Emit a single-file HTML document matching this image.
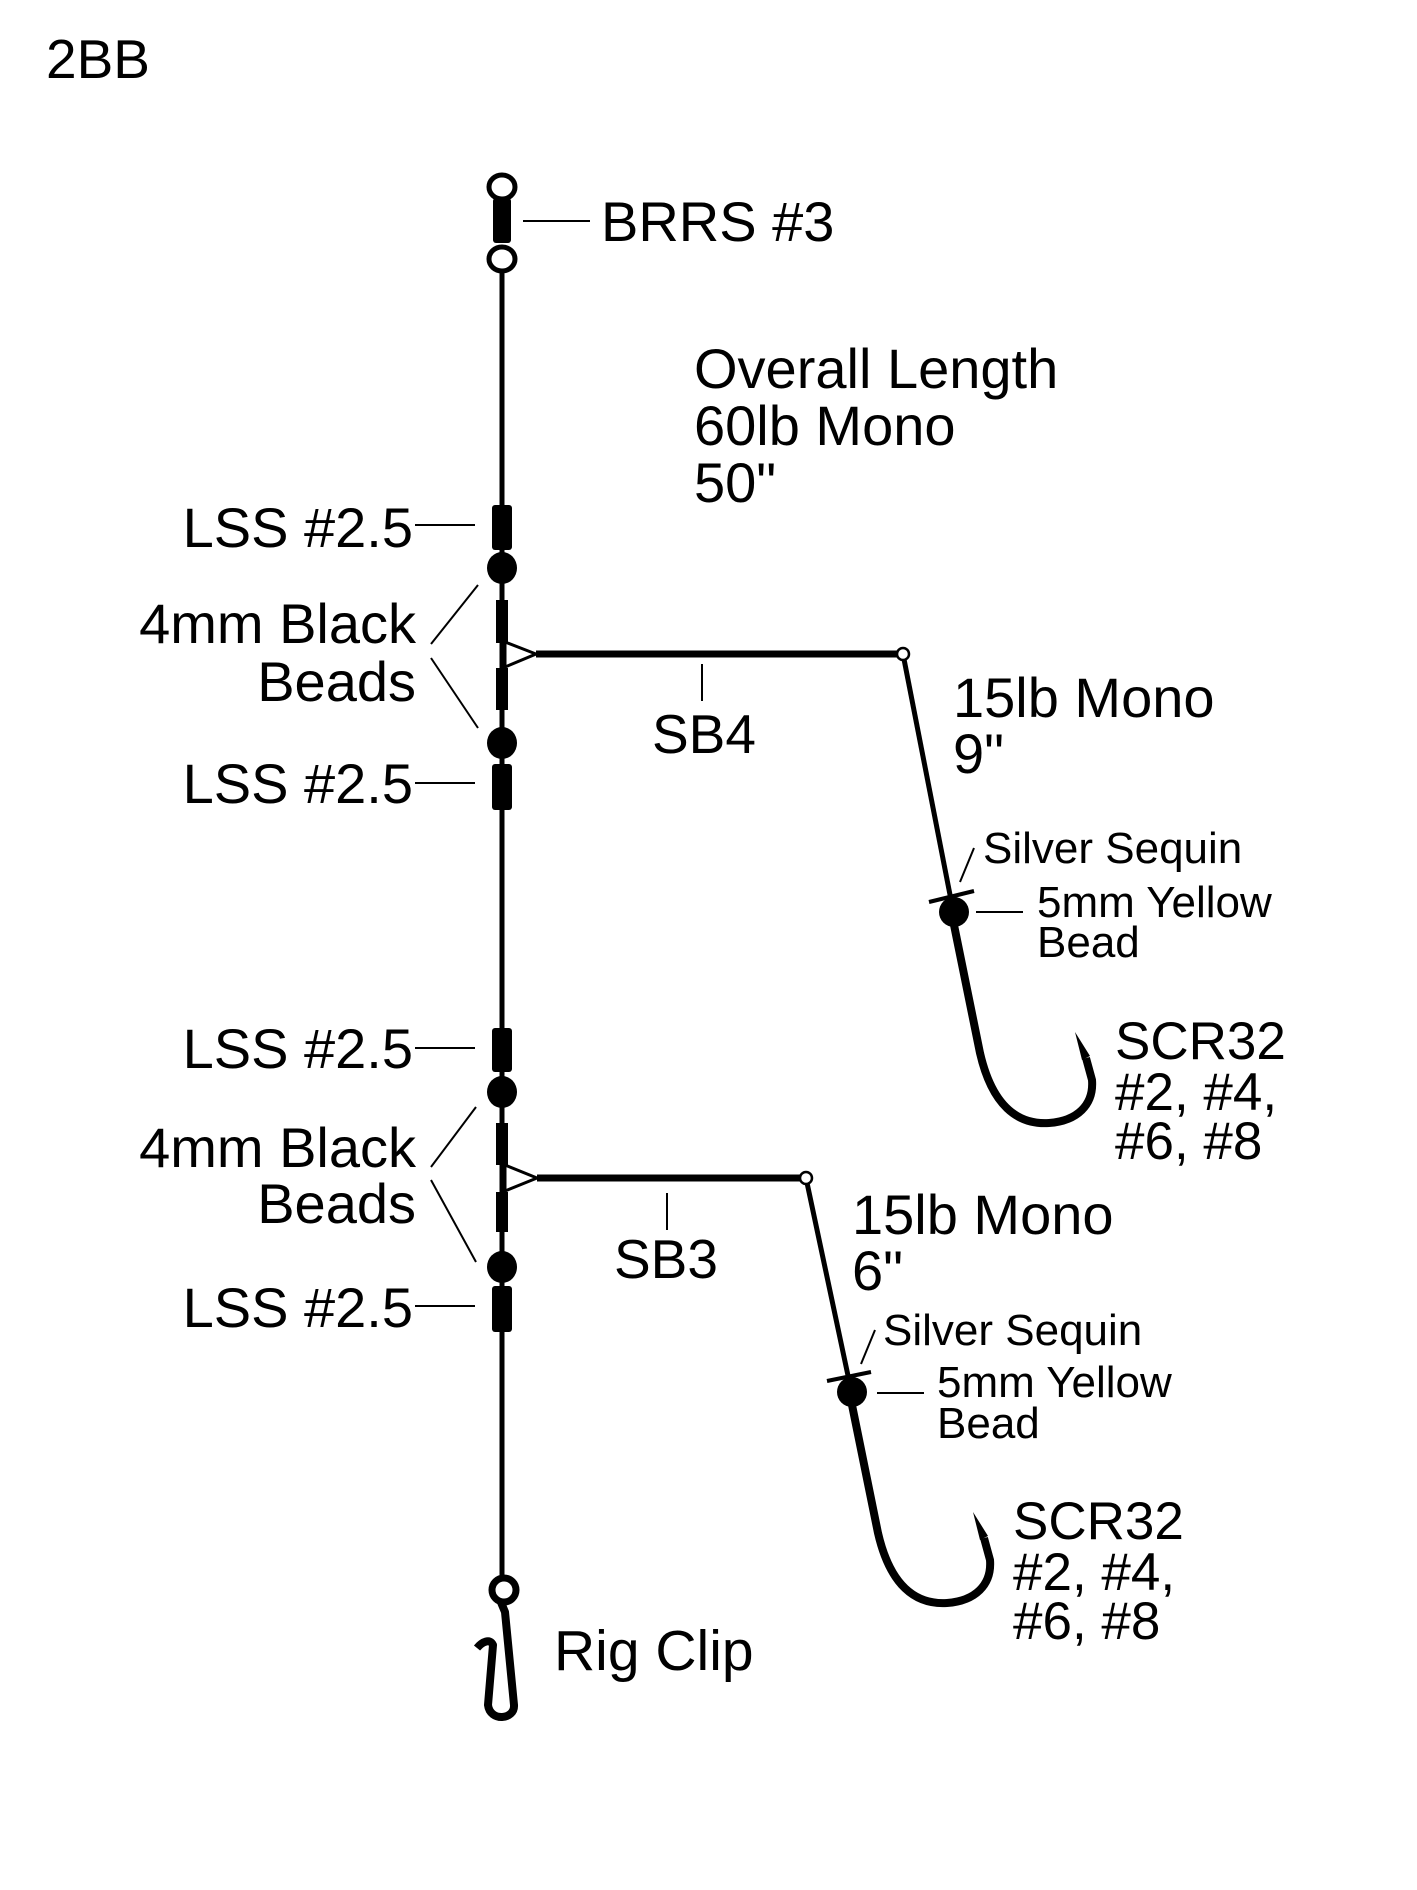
<!DOCTYPE html>
<html><head><meta charset="utf-8"><style>
html,body{margin:0;padding:0;background:#fff;}
svg{display:block;}
text{font-family:"Liberation Sans",Arial,sans-serif;fill:#000;}
</style></head><body>
<svg width="1417" height="1890" viewBox="0 0 1417 1890" xmlns="http://www.w3.org/2000/svg">
<rect width="1417" height="1890" fill="#fff"/>
<text x="46" y="78" font-size="55">2BB</text>

<line x1="502" y1="270" x2="502" y2="1580" stroke="#000" stroke-width="5"/>

<rect x="493" y="198" width="18" height="45" rx="3" fill="#000"/>
<ellipse cx="502" cy="187" rx="13" ry="12" fill="#fff" stroke="#000" stroke-width="5"/>
<ellipse cx="502" cy="259" rx="13" ry="12" fill="#fff" stroke="#000" stroke-width="5"/>
<line x1="523" y1="221" x2="590" y2="221" stroke="#000" stroke-width="2"/>
<text x="601" y="241" font-size="56">BRRS #3</text>

<text x="694" y="388" font-size="56">Overall Length</text>
<text x="694" y="445" font-size="56">60lb Mono</text>
<text x="694" y="502" font-size="56">50"</text>

<g>
<rect x="492" y="505" width="20" height="45" rx="3" fill="#000"/>
<line x1="415" y1="525" x2="475" y2="525" stroke="#000" stroke-width="2"/>
<text x="413" y="547" font-size="56" text-anchor="end">LSS #2.5</text>
<ellipse cx="502" cy="568" rx="15" ry="16" fill="#000"/>
<rect x="496" y="600" width="12" height="43" fill="#000"/>
<rect x="496" y="668" width="12" height="42" fill="#000"/>
<ellipse cx="502" cy="743" rx="15" ry="16" fill="#000"/>
<rect x="492" y="764" width="20" height="46" rx="3" fill="#000"/>
<line x1="415" y1="783" x2="475" y2="783" stroke="#000" stroke-width="2"/>
<text x="413" y="803" font-size="56" text-anchor="end">LSS #2.5</text>
<text x="416" y="643" font-size="56" text-anchor="end">4mm Black</text>
<text x="416" y="701" font-size="56" text-anchor="end">Beads</text>
<line x1="478" y1="585" x2="431" y2="644" stroke="#000" stroke-width="2"/>
<line x1="431" y1="658" x2="478" y2="728" stroke="#000" stroke-width="2"/>
<polygon points="505,642 536,654 505,667" fill="#fff" stroke="#000" stroke-width="3"/>
<line x1="536" y1="654" x2="897" y2="654" stroke="#000" stroke-width="7"/>
<line x1="702" y1="664" x2="702" y2="701" stroke="#000" stroke-width="2"/>
<text x="652" y="753" font-size="55">SB4</text>
</g>

<line x1="903" y1="654" x2="952" y2="905" stroke="#000" stroke-width="5"/>
<circle cx="903" cy="654" r="6" fill="#fff" stroke="#000" stroke-width="2.5"/>
<text x="953" y="717" font-size="56">15lb Mono</text>
<text x="953" y="773" font-size="56">9"</text>
<line x1="929" y1="902" x2="974" y2="891" stroke="#000" stroke-width="4"/>
<line x1="960" y1="882" x2="974" y2="848" stroke="#000" stroke-width="2"/>
<text x="983" y="863" font-size="44">Silver Sequin</text>
<circle cx="954" cy="912" r="15" fill="#000"/>
<line x1="976" y1="912" x2="1023" y2="912" stroke="#000" stroke-width="2"/>
<text x="1037" y="917" font-size="44">5mm Yellow</text>
<text x="1037" y="957" font-size="44">Bead</text>
<path d="M954,925 L980,1053 C992,1105 1017,1125 1049,1123 C1077,1121 1094,1105 1092,1080 L1086,1058" fill="none" stroke="#000" stroke-width="8"/>
<polygon points="1082,1060 1090,1056 1075,1032" fill="#000"/>
<text x="1115" y="1059" font-size="53">SCR32</text>
<text x="1115" y="1110" font-size="53">#2, #4,</text>
<text x="1115" y="1159" font-size="53">#6, #8</text>

<g>
<rect x="492" y="1028" width="20" height="44" rx="3" fill="#000"/>
<line x1="415" y1="1048" x2="475" y2="1048" stroke="#000" stroke-width="2"/>
<text x="413" y="1068" font-size="56" text-anchor="end">LSS #2.5</text>
<ellipse cx="502" cy="1092" rx="15" ry="16" fill="#000"/>
<rect x="496" y="1123" width="12" height="42" fill="#000"/>
<rect x="496" y="1192" width="12" height="40" fill="#000"/>
<ellipse cx="502" cy="1267" rx="15" ry="16" fill="#000"/>
<rect x="492" y="1286" width="20" height="46" rx="3" fill="#000"/>
<line x1="415" y1="1306" x2="475" y2="1306" stroke="#000" stroke-width="2"/>
<text x="413" y="1327" font-size="56" text-anchor="end">LSS #2.5</text>
<text x="416" y="1167" font-size="56" text-anchor="end">4mm Black</text>
<text x="416" y="1223" font-size="56" text-anchor="end">Beads</text>
<line x1="476" y1="1107" x2="431" y2="1167" stroke="#000" stroke-width="2"/>
<line x1="431" y1="1180" x2="476" y2="1262" stroke="#000" stroke-width="2"/>
<polygon points="505,1165 537,1178 505,1191" fill="#fff" stroke="#000" stroke-width="3"/>
<line x1="537" y1="1178" x2="800" y2="1178" stroke="#000" stroke-width="7"/>
<line x1="667" y1="1193" x2="667" y2="1230" stroke="#000" stroke-width="2"/>
<text x="614" y="1278" font-size="55">SB3</text>
</g>

<line x1="806" y1="1178" x2="850" y2="1385" stroke="#000" stroke-width="5"/>
<circle cx="806" cy="1178" r="6" fill="#fff" stroke="#000" stroke-width="2.5"/>
<text x="852" y="1234" font-size="56">15lb Mono</text>
<text x="852" y="1290" font-size="56">6"</text>
<line x1="827" y1="1381" x2="871" y2="1372" stroke="#000" stroke-width="4"/>
<line x1="861" y1="1364" x2="875" y2="1330" stroke="#000" stroke-width="2"/>
<text x="883" y="1345" font-size="44">Silver Sequin</text>
<circle cx="852" cy="1392" r="15" fill="#000"/>
<line x1="877" y1="1393" x2="924" y2="1393" stroke="#000" stroke-width="2"/>
<text x="937" y="1397" font-size="44">5mm Yellow</text>
<text x="937" y="1438" font-size="44">Bead</text>
<path d="M852,1405 L878,1533 C890,1585 915,1605 947,1603 C975,1601 992,1585 990,1560 L984,1538" fill="none" stroke="#000" stroke-width="8"/>
<polygon points="980,1540 988,1536 973,1512" fill="#000"/>
<text x="1013" y="1539" font-size="53">SCR32</text>
<text x="1013" y="1590" font-size="53">#2, #4,</text>
<text x="1013" y="1639" font-size="53">#6, #8</text>

<circle cx="504" cy="1590" r="12" fill="#fff" stroke="#000" stroke-width="7"/>
<path d="M500,1600 L505,1612 L514,1705 C515,1720 490,1722 488,1705 L493,1645 C490,1638 482,1642 477,1648" fill="none" stroke="#000" stroke-width="8" stroke-linejoin="round"/>
<text x="554" y="1670" font-size="57">Rig Clip</text>
</svg>
</body></html>
